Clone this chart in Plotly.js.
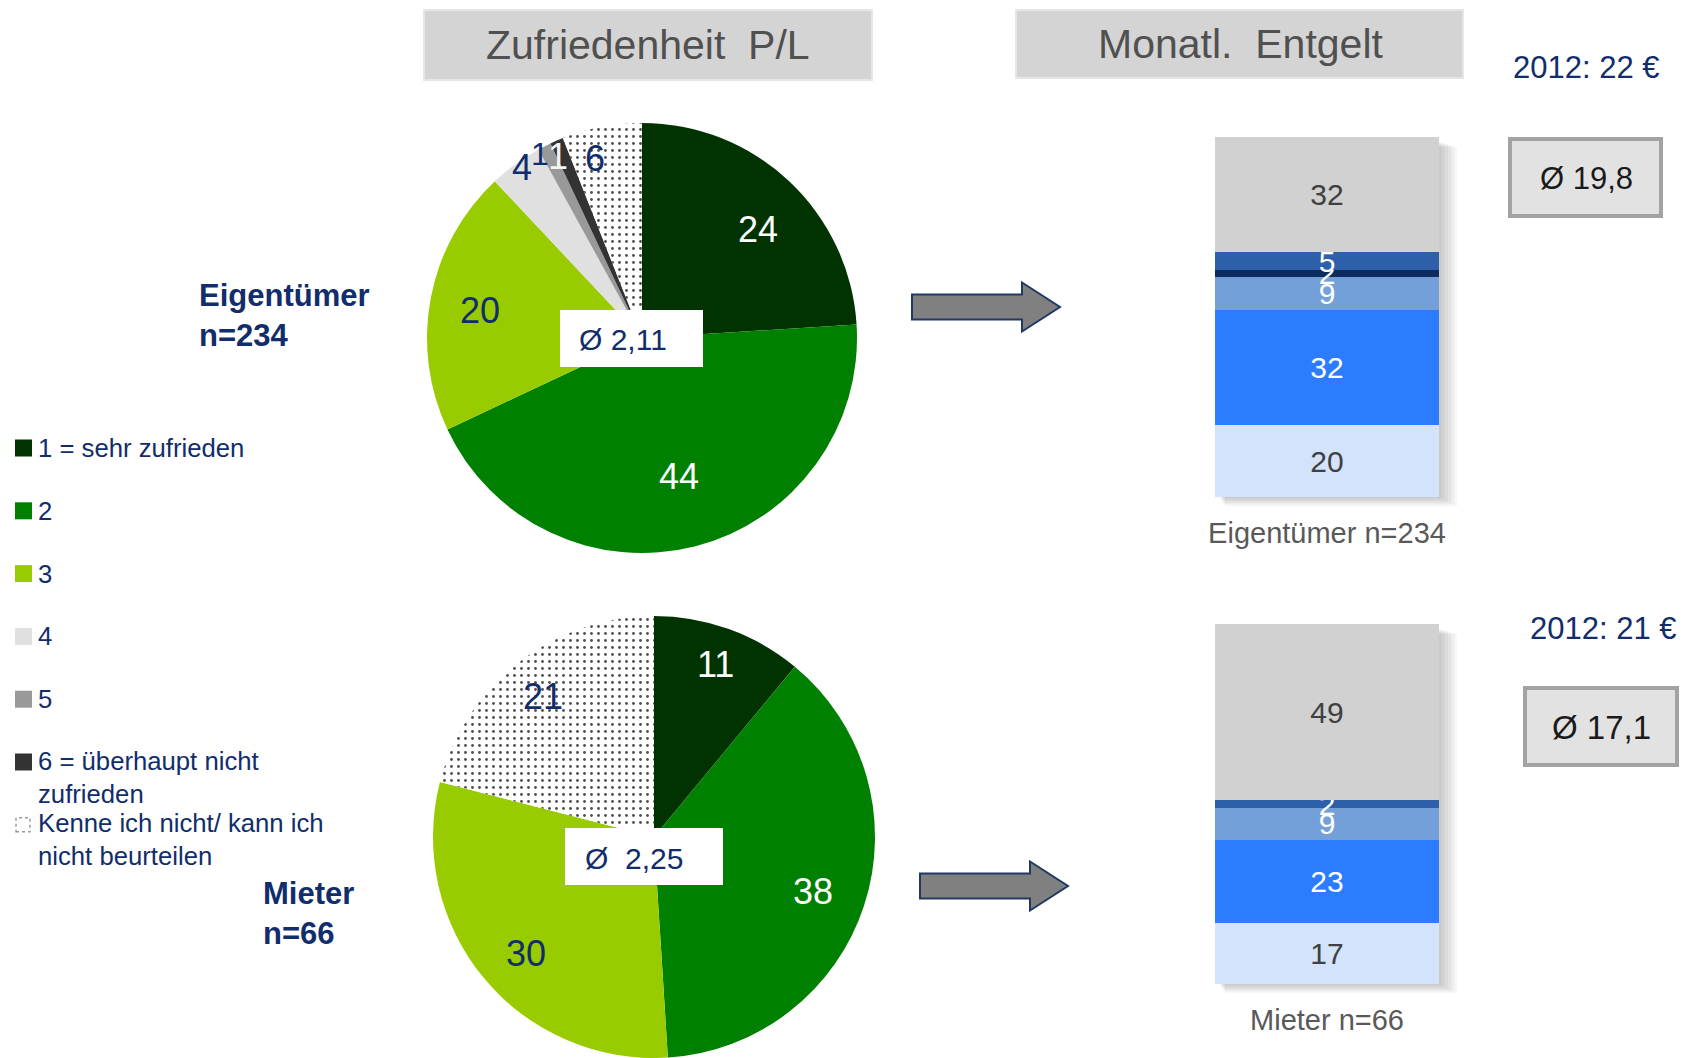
<!DOCTYPE html>
<html>
<head>
<meta charset="utf-8">
<script src="https://cdn.plot.ly/plotly-3.0.1.min.js"></script>
<style>html,body{margin:0;padding:0;background:#fff}#chart{width:1684px;height:1058px}</style>
</head>
<body>
<div id="chart"></div>
<script>
// ---------------- data ----------------
const satisfactionLabels = ['1 = sehr zufrieden', '2', '3', '4', '5', '6 = überhaupt nicht<br>zufrieden', 'Kenne ich nicht/ kann ich<br>nicht beurteilen'];
const ownersSatisfaction = [24, 44, 20, 4, 1, 1, 6];
const tenantsSatisfaction = [11, 38, 30, 0, 0, 0, 21];
const ownersAvgGrade = 'Ø 2,11';
const tenantsAvgGrade = 'Ø\u00a0\u00a02,25';

const feeBands = ['Stufe 1', 'Stufe 2', 'Stufe 3', 'Stufe 4', 'Stufe 5', 'keine Angabe'];
const ownersFee = [20, 32, 9, 2, 5, 32];
const tenantsFee = [17, 23, 9, 0, 2, 49];
const ownersAvgFee = 'Ø 19,8';
const tenantsAvgFee = 'Ø 17,1';
const ownersFee2012 = '2012: 22 €';
const tenantsFee2012 = '2012: 21 €';

const groupLabels = ['Eigentümer<br>n=234', 'Mieter<br>n=66'];
const barCategories = ['Eigentümer n=234', 'Mieter n=66'];
const headers = ['Zufriedenheit\u00a0\u00a0P/L', 'Monatl.\u00a0\u00a0Entgelt'];

// ---------------- style ----------------
const W = 1684, H = 1058;
const px = x => x / W;
const py = y => 1 - y / H;
const FONT = "'Liberation Sans', Arial, sans-serif";
const NAVY = '#112d6b';

const pieColors = ['#003300', '#008000', '#99cc00', '#e0e0e0', '#999999', '#333333', '#ffffff'];
const piePatterns = ['', '', '', '', '', '', '.'];
const topLabelColors = ['#ffffff', '#ffffff', NAVY, NAVY, NAVY, '#f2f2f2', NAVY];
const topLabelRadii = [0.74, 0.665, 0.765, 0.97, 0.98, 0.93, 0.865];
const topLabelShift = [3.6, -0.6, -1, 0.9, -1.9, -1.5, -3.8];
const topLabelSizes = [36, 36, 36, 36, 32, 36, 36];
const botLabelColors = ['#ffffff', '#ffffff', NAVY, NAVY, NAVY, NAVY, NAVY];
const botLabelRadii = [0.828, 0.76, 0.785, 0.8, 0.8, 0.8, 0.81];
const botLabelShift = [0, 1.1, -2.8, 0, 0, 0, -0.6];
const botLabelSizes = [36, 36, 36, 36, 36, 36, 36];

const barColors = ['#d3e3fc', '#2b7cff', '#74a0da', '#0c2b5e', '#2e5fab', '#d1d1d1'];
const barTextColors = ['#404040', '#ffffff', '#ffffff', '#ffffff', '#ffffff', '#404040'];

const topPie = {cx: 642, cy: 338, R: 215};
const botPie = {cx: 654, cy: 837, R: 221};
const barX = [1215, 1439];
const topBarY = [137, 497];
const botBarY = [624, 984];

function pieDomain(p) {
  return {x: [px(p.cx - p.R), px(p.cx + p.R)], y: [py(p.cy + p.R), py(p.cy - p.R)]};
}

function pieLabelAnnotations(values, p, radii, shifts, colors, sizes) {
  const total = values.reduce((a, b) => a + b, 0);
  let cum = 0;
  const out = [];
  values.forEach((v, i) => {
    const mid = (cum + v / 2) / total * 2 * Math.PI + shifts[i] * Math.PI / 180;
    cum += v;
    if (!v) return;
    const r = p.R * radii[i];
    out.push({
      xref: 'paper', yref: 'paper', showarrow: false,
      x: px(p.cx + r * Math.sin(mid)), y: py(p.cy - r * Math.cos(mid)),
      xanchor: 'center', yanchor: 'middle', text: String(v),
      font: {family: FONT, size: sizes[i], color: colors[i]}
    });
  });
  return out;
}

const traces = [];
function pieTrace(values, p) {
  return {
    type: 'pie', values: values, labels: satisfactionLabels.map(s => s.replace('<br>', ' ')),
    sort: false, direction: 'clockwise', rotation: 0, textinfo: 'none',
    domain: pieDomain(p), showlegend: false, hoverinfo: 'label+value',
    marker: {
      colors: pieColors, line: {width: 0},
      pattern: {shape: piePatterns, fgcolor: '#505050', bgcolor: '#ffffff', size: 7, solidity: 0.13}
    }
  };
}
traces.push(pieTrace(ownersSatisfaction, topPie));
traces.push(pieTrace(tenantsSatisfaction, botPie));

feeBands.forEach((name, i) => {
  [[ownersFee, 'x', 'y', barCategories[0]], [tenantsFee, 'x2', 'y2', barCategories[1]]].forEach(([vals, xa, ya, cat]) => {
    traces.push({
      type: 'bar', name: name, x: [cat], y: [vals[i]], xaxis: xa, yaxis: ya,
      marker: {color: barColors[i], line: {width: 0}},
      text: [vals[i] ? String(vals[i]) : ''], textposition: 'inside', insidetextanchor: 'middle',
      constraintext: 'none', textangle: 0,
      textfont: {family: FONT, size: 30, color: barTextColors[i]},
      showlegend: false, hoverinfo: 'name+y'
    });
  });
});

// ---------------- shapes ----------------
const shapes = [];
function rectPx(x0, y0, x1, y1, fill, line, layer) {
  shapes.push({type: 'rect', xref: 'paper', yref: 'paper', x0: px(x0), x1: px(x1), y0: py(y1), y1: py(y0),
    fillcolor: fill, line: line || {width: 0}, layer: layer || 'above'});
}
// headers
rectPx(424, 10, 872, 80, '#d4d4d4', {color: '#e6e6e6', width: 2});
rectPx(1016, 10, 1463, 78, '#d4d4d4', {color: '#e6e6e6', width: 2});
// bar shadows
function barShadow(yr) {
  for (let k = 1; k <= 6; k++) {
    rectPx(barX[0] + 4 + k, yr[0] + 4 + k, barX[1] + 3 * k, yr[1] + 1.5 * k, 'rgba(0,0,0,0.035)', {width: 0}, 'below');
  }
}
barShadow(topBarY);
barShadow(botBarY);
// arrows
function arrowPath(x0, x1, xt, yc, sh, hh) {
  return `M${px(x0)},${py(yc - sh)} L${px(x1)},${py(yc - sh)} L${px(x1)},${py(yc - hh)} L${px(xt)},${py(yc)} ` +
         `L${px(x1)},${py(yc + hh)} L${px(x1)},${py(yc + sh)} L${px(x0)},${py(yc + sh)} Z`;
}
[[912, 1022, 1060, 307], [920, 1030, 1068, 886]].forEach(a => {
  shapes.push({type: 'path', xref: 'paper', yref: 'paper', path: arrowPath(a[0], a[1], a[2], a[3], 12.5, 24.5),
    fillcolor: '#808080', line: {color: '#1f3864', width: 2}});
});
// average grade boxes
rectPx(560, 310, 703, 367, '#ffffff');
rectPx(565, 828, 723, 885, '#ffffff');
// average fee boxes
rectPx(1510, 139, 1661, 216, '#e2e2e2', {color: '#a3a3a3', width: 4});
rectPx(1525, 688, 1677, 765, '#e2e2e2', {color: '#a3a3a3', width: 4});
// legend symbols
satisfactionLabels.forEach((l, i) => {
  const yc = 448 + i * 62.8;
  if (piePatterns[i]) {
    rectPx(16, yc - 7, 30, yc + 7, '#ffffff', {color: '#9a9a9a', width: 1.5, dash: 'dot'});
  } else {
    rectPx(15, yc - 8.5, 32, yc + 8.5, pieColors[i]);
  }
});

// ---------------- annotations ----------------
const annotations = [];
function ann(x, y, text, font, xanchor, yanchor, extra) {
  annotations.push(Object.assign({xref: 'paper', yref: 'paper', x: px(x), y: py(y), text: text, showarrow: false,
    xanchor: xanchor || 'center', yanchor: yanchor || 'middle', font: Object.assign({family: FONT}, font)}, extra || {}));
}
ann(648, 45, headers[0], {size: 41, color: '#505050'});
ann(1240, 44, headers[1], {size: 41, color: '#505050'});

pieLabelAnnotations(ownersSatisfaction, topPie, topLabelRadii, topLabelShift, topLabelColors, topLabelSizes).forEach(a => annotations.push(a));
pieLabelAnnotations(tenantsSatisfaction, botPie, botLabelRadii, botLabelShift, botLabelColors, botLabelSizes).forEach(a => annotations.push(a));

ann(577, 340, ownersAvgGrade, {size: 30, color: NAVY}, 'left');
ann(583, 858, tenantsAvgGrade, {size: 30, color: NAVY}, 'left');

ann(1586, 68, ownersFee2012, {size: 31, color: NAVY});
ann(1603, 628, tenantsFee2012, {size: 31, color: NAVY});
ann(1586, 178, ownersAvgFee, {size: 31, color: '#1a1a1a'});
ann(1601, 727, tenantsAvgFee, {size: 33, color: '#1a1a1a'});

ann(197, 316, '<b>' + groupLabels[0] + '</b>', {size: 31, color: NAVY}, 'left', 'middle', {align: 'left'});
ann(261, 913, '<b>' + groupLabels[1] + '</b>', {size: 31, color: NAVY}, 'left', 'middle', {align: 'left'});

satisfactionLabels.forEach((l, i) => {
  const yc = 448 + i * 62.8;
  if (l.indexOf('<br>') >= 0) {
    ann(36, yc - 17.5, l, {size: 25.7, color: NAVY}, 'left', 'top', {align: 'left'});
  } else {
    ann(36, yc, l, {size: 25.7, color: NAVY}, 'left', 'middle', {align: 'left'});
  }
});

// ---------------- layout ----------------
const axisX = (dom, anchor) => ({
  domain: dom, anchor: anchor, type: 'category', range: [-0.5, 0.5], fixedrange: true,
  showgrid: false, zeroline: false, showline: false, ticks: '', ticklabelstandoff: 16,
  tickfont: {family: FONT, size: 29, color: '#595959'}
});
const axisY = (dom, anchor) => ({
  domain: dom, anchor: anchor, range: [0, 100], visible: false, fixedrange: true
});

const layout = {
  width: W, height: H,
  margin: {l: 0, r: 0, t: 0, b: 0, pad: 0},
  paper_bgcolor: '#ffffff', plot_bgcolor: 'rgba(0,0,0,0)',
  showlegend: false, barmode: 'stack', bargap: 0,
  xaxis: axisX([px(barX[0]), px(barX[1])], 'y'),
  yaxis: axisY([py(topBarY[1]), py(topBarY[0])], 'x'),
  xaxis2: axisX([px(barX[0]), px(barX[1])], 'y2'),
  yaxis2: axisY([py(botBarY[1]), py(botBarY[0])], 'x2'),
  shapes: shapes, annotations: annotations,
  font: {family: FONT}
};

Plotly.newPlot('chart', traces, layout, {displayModeBar: false, staticPlot: true});
</script>
</body>
</html>
